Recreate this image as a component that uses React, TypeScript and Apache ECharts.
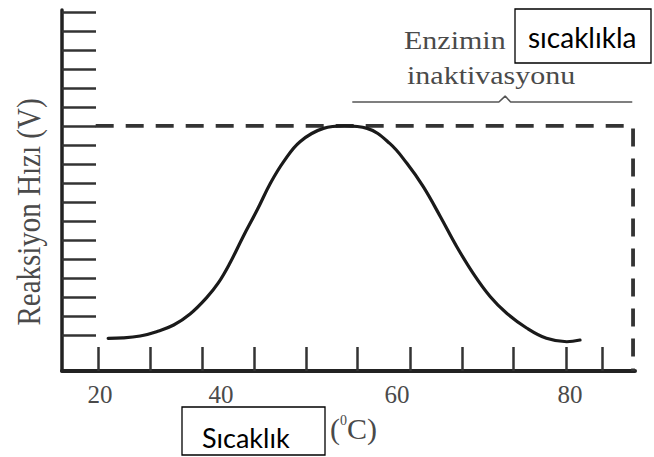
import { useEffect, useRef } from 'react';
import * as echarts from 'echarts';

// Reaction rate curve: temperature (°C) vs. rate (relative units)
const tempC = [21.3, 23.2, 25.4, 27.5, 29.7, 31.8, 33.9, 35.4, 36.9, 38.6, 40.4, 42.1, 43.8, 45.9, 48.9, 51.6, 54.5, 57.4, 59.6, 61.7, 63.9, 66.0, 68.1, 70.3, 72.4, 75.0, 77.5, 80.1, 81.8];
const rate = [1.82, 1.84, 1.94, 2.17, 2.52, 3.1, 3.95, 4.72, 5.77, 7.17, 8.57, 9.98, 11.12, 12.17, 12.87, 13.0, 12.87, 12.08, 11.03, 9.8, 8.22, 6.64, 5.24, 4.01, 3.14, 2.35, 1.82, 1.64, 1.73];

// Maximum-rate guide (dashed frame)
const optimumRate = 13;
const guideStart = 19.7;
const guideEnd = 88.6;

// Brace over the inactivation range
const braceX = [52.6, 71.4, 72.2, 72.9, 88.5];
const braceY = [14.26, 14.26, 14.57, 14.26, 14.26];

// Axis ticks and labels
const xTicks = [20, 26.7, 33.3, 40, 46.7, 53.3, 60, 66.7, 73.3, 80, 84.6];
const xLabels = [20, 40, 60, 80];
const yTicks = [2, 3, 4, 5, 6, 7, 8, 9, 10, 11, 12, 13, 14, 15, 16, 17, 18, 19];

const X_MIN = 15.38;
const X_MAX = 88.85;
const Y_MIN = 0.1;
const Y_MAX = 19.1;

// horizontal nudge (px) for each temperature label
const labelNudge: Record<number, number> = { 20: 2, 40: -33, 60: -13, 80: 4 };

const serif = '"Liberation Serif", "Times New Roman", serif';
const sans = 'Lato, "Open Sans", sans-serif';
const labelGrey = '#4a4a4a';

export default function App() {
  const ref = useRef<HTMLDivElement>(null);

  useEffect(() => {
    if (!ref.current) return;
    const chart = echarts.init(ref.current, null, { renderer: 'svg' });

    const rich: Record<string, any> = {};
    xLabels.forEach((v) => {
      const s = labelNudge[v] || 0;
      rich['n' + v] = {
        fontFamily: serif,
        fontSize: 25,
        color: labelGrey,
        padding: s < 0 ? [0, -2 * s, 0, 0] : [0, 0, 0, 2 * s],
      };
    });

    chart.setOption({
      animation: false,
      backgroundColor: '#fff',
      grid: {
        left: 62,
        right: 19,
        top: 10,
        bottom: 86,
        containLabel: false,
        outerBoundsMode: 'none',
      },
      xAxis: {
        type: 'value',
        min: X_MIN,
        max: X_MAX,
        splitLine: { show: false },
        axisLine: { show: true, lineStyle: { color: '#222', width: 4 } },
        axisTick: {
          show: true,
          inside: true,
          length: 24,
          customValues: xTicks,
          lineStyle: { color: '#333', width: 2.5 },
        },
        axisLabel: {
          show: true,
          customValues: xLabels,
          margin: 11,
          fontFamily: serif,
          fontSize: 25,
          color: labelGrey,
          formatter: (v: number) => `{n${v}|${v}}`,
          rich,
        },
      },
      yAxis: {
        type: 'value',
        min: Y_MIN,
        max: Y_MAX,
        splitLine: { show: false },
        axisLine: { show: true, lineStyle: { color: '#222', width: 3.5 } },
        axisTick: {
          show: true,
          inside: true,
          length: 34,
          customValues: yTicks,
          lineStyle: { color: '#333', width: 2.5 },
        },
        axisLabel: { show: false },
      },
      series: [
        {
          type: 'line',
          name: 'guide',
          data: [
            [guideStart, optimumRate],
            [guideEnd, optimumRate],
            [guideEnd, Y_MIN],
          ],
          symbol: 'none',
          silent: true,
          lineStyle: { color: '#333', width: 3.8, type: [18, 12] },
          z: 2,
        },
        {
          type: 'line',
          name: 'brace',
          data: braceX.map((x, i) => [x, braceY[i]]),
          symbol: 'none',
          silent: true,
          lineStyle: { color: '#555', width: 1.6 },
          z: 2,
        },
        {
          type: 'line',
          name: 'rate',
          data: tempC.map((t, i) => [t, rate[i]]),
          symbol: 'none',
          smooth: 0.4,
          silent: true,
          lineStyle: { color: '#1a1a1a', width: 3.2, cap: 'round' },
          z: 3,
        },
      ],
      graphic: [
        {
          type: 'text',
          x: 29,
          y: 212,
          rotation: Math.PI / 2,
          scaleY: 1.15,
          style: {
            text: 'Reaksiyon Hızı (V)',
            fontFamily: serif,
            fontSize: 29,
            fill: labelGrey,
            align: 'center',
            verticalAlign: 'middle',
          },
        },
        {
          type: 'text',
          x: 404,
          y: 40,
          scaleX: 1.2,
          style: {
            text: 'Enzimin',
            fontFamily: serif,
            fontSize: 25,
            fill: labelGrey,
            align: 'left',
            verticalAlign: 'middle',
          },
        },
        {
          type: 'text',
          x: 407,
          y: 75,
          scaleX: 1.2,
          style: {
            text: 'inaktivasyonu',
            fontFamily: serif,
            fontSize: 25,
            fill: labelGrey,
            align: 'left',
            verticalAlign: 'middle',
          },
        },
        {
          type: 'text',
          x: 330,
          y: 428,
          style: {
            text: '({s|0}C)',
            fontFamily: serif,
            fontSize: 30,
            fill: labelGrey,
            align: 'left',
            verticalAlign: 'middle',
            rich: {
              s: {
                fontFamily: serif,
                fontSize: 14,
                fill: labelGrey,
                padding: [0, 0, 16, 0],
              },
            },
          },
        },
        {
          type: 'rect',
          z: 100,
          shape: { x: 515, y: 9, width: 136, height: 54 },
          style: { fill: '#fff', stroke: '#000', lineWidth: 1.3 },
        },
        {
          type: 'text',
          z: 101,
          x: 528,
          y: 37,
          style: {
            text: 'sıcaklıkla',
            fontFamily: sans,
            fontSize: 28,
            fill: '#000',
            align: 'left',
            verticalAlign: 'middle',
          },
        },
        {
          type: 'rect',
          z: 100,
          shape: { x: 182, y: 407, width: 143, height: 48 },
          style: { fill: '#fff', stroke: '#000', lineWidth: 1.3 },
        },
        {
          type: 'text',
          z: 101,
          x: 202,
          y: 437,
          style: {
            text: 'Sıcaklık',
            fontFamily: sans,
            fontSize: 27,
            fill: '#000',
            align: 'left',
            verticalAlign: 'middle',
          },
        },
      ],
    });

    return () => chart.dispose();
  }, []);

  return (
    <div
      ref={ref}
      style={{ position: 'fixed', left: 0, top: 0, width: 654, height: 457, background: '#fff' }}
    />
  );
}
